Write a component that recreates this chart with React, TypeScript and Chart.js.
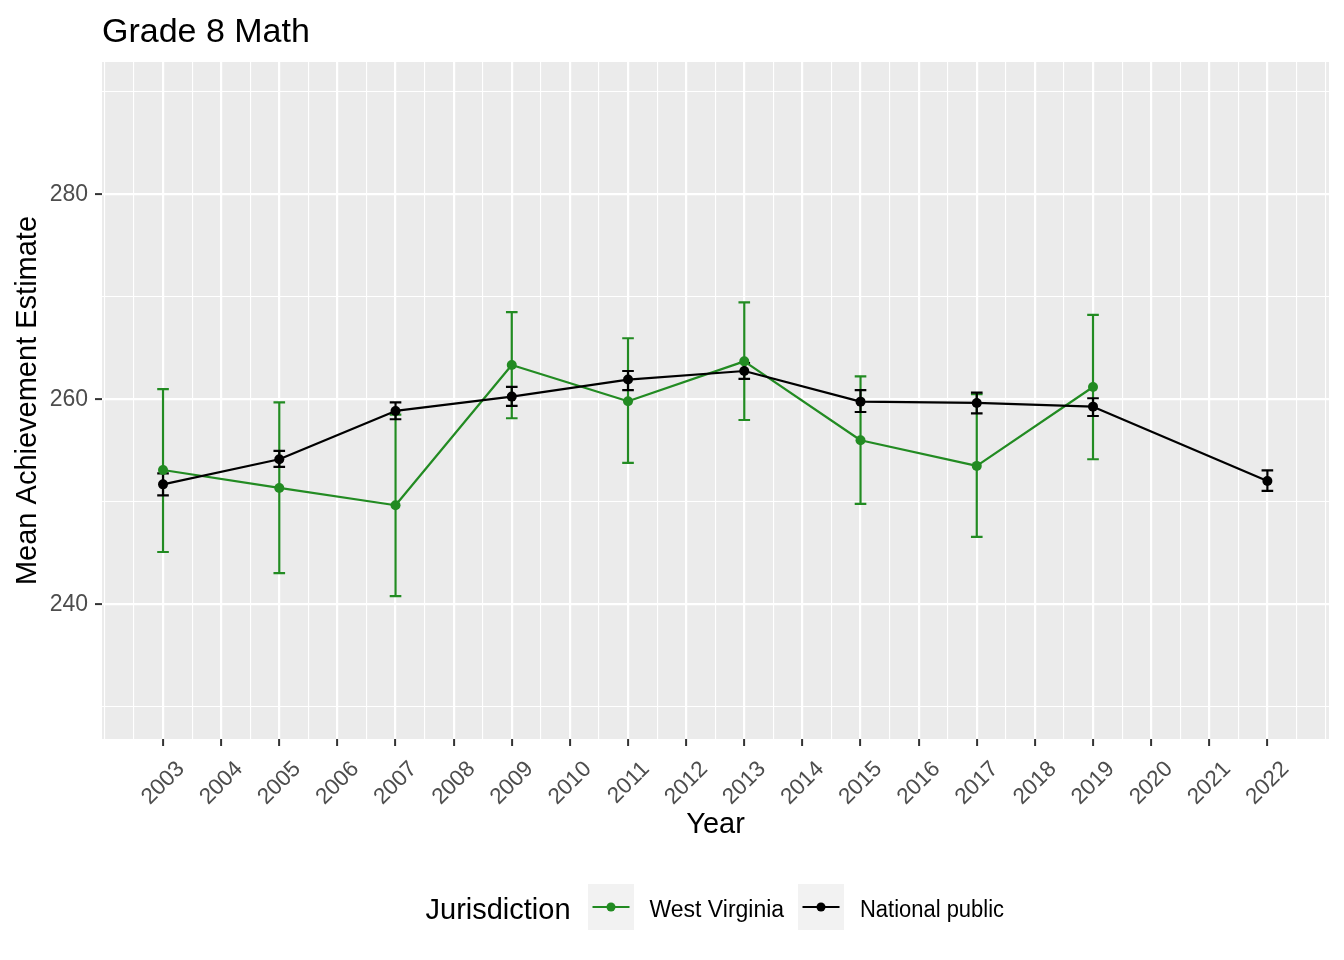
import React, { useEffect, useRef } from 'react';
import { Chart, registerables } from 'chart.js';

Chart.register(...registerables);

// ---------- data ----------
const wvYears = [2003, 2005, 2007, 2009, 2011, 2013, 2015, 2017, 2019];
const wvMean = [253.1, 251.35, 249.66, 263.35, 259.8, 263.7, 256.0, 253.5, 261.2];
const wvLow = [245.1, 243.05, 240.8, 258.15, 253.8, 257.98, 249.8, 246.57, 254.15];
const wvHigh = [260.98, 259.7, 258.5, 268.5, 265.95, 269.46, 262.24, 260.49, 268.23];

const npYears = [2003, 2005, 2007, 2009, 2011, 2013, 2015, 2017, 2019, 2022];
const npMean = [251.7, 254.15, 258.86, 260.26, 261.92, 262.76, 259.77, 259.64, 259.28, 252.03];
const npLow = [250.63, 253.4, 258.05, 259.35, 260.9, 261.98, 258.76, 258.63, 258.37, 251.06];
const npHigh = [252.78, 254.96, 259.7, 261.2, 262.76, 263.54, 260.9, 260.65, 260.1, 253.07];

const xTickLabels = [2003, 2004, 2005, 2006, 2007, 2008, 2009, 2010, 2011, 2012, 2013, 2014, 2015, 2016, 2017, 2018, 2019, 2020, 2021, 2022];
const xGridValues = [2002, 2002.5, 2003, 2003.5, 2004, 2004.5, 2005, 2005.5, 2006, 2006.5, 2007, 2007.5, 2008, 2008.5, 2009, 2009.5, 2010, 2010.5, 2011, 2011.5, 2012, 2012.5, 2013, 2013.5, 2014, 2014.5, 2015, 2015.5, 2016, 2016.5, 2017, 2017.5, 2018, 2018.5, 2019, 2019.5, 2020, 2020.5, 2021, 2021.5, 2022, 2022.5, 2023];
const yTickLabels = [240, 260, 280];
const yGridValues = [230, 240, 250, 260, 270, 280, 290];

const seriesNames = ['West Virginia', 'National public'];

const TITLE = 'Grade 8 Math';
const X_TITLE = 'Year';
const Y_TITLE = 'Mean Achievement Estimate';
const LEGEND_TITLE = 'Jurisdiction';

const GREEN = '#228B22';
const BLACK = '#000000';
const FONT = '"Liberation Sans", Arial, Helvetica, sans-serif';

const CAP_HALF = 0.1;

const bgPlugin = {
  id: 'ggBackground',
  beforeDraw(chart: any) {
    const { ctx, chartArea } = chart;
    ctx.save();
    ctx.fillStyle = '#FFFFFF';
    ctx.fillRect(0, 0, chart.width, chart.height);
    ctx.fillStyle = '#EBEBEB';
    ctx.fillRect(chartArea.left, chartArea.top, chartArea.right - chartArea.left, chartArea.bottom - chartArea.top);
    ctx.restore();
  },
};

const errorBarPlugin = {
  id: 'ggErrorBars',
  beforeDatasetsDraw(chart: any) {
    const { ctx } = chart;
    const xs = chart.scales.x;
    const ys = chart.scales.y;
    const sets = [
      { yrs: wvYears, lo: wvLow, hi: wvHigh, color: GREEN },
      { yrs: npYears, lo: npLow, hi: npHigh, color: BLACK },
    ];
    ctx.save();
    ctx.lineWidth = 2.2;
    sets.forEach((s) => {
      ctx.strokeStyle = s.color;
      s.yrs.forEach((yr, i) => {
        const px = xs.getPixelForValue(yr);
        const x0 = xs.getPixelForValue(yr - CAP_HALF);
        const x1 = xs.getPixelForValue(yr + CAP_HALF);
        const y0 = ys.getPixelForValue(s.lo[i]);
        const y1 = ys.getPixelForValue(s.hi[i]);
        ctx.beginPath();
        ctx.moveTo(px, y0);
        ctx.lineTo(px, y1);
        ctx.moveTo(x0, y0);
        ctx.lineTo(x1, y0);
        ctx.moveTo(x0, y1);
        ctx.lineTo(x1, y1);
        ctx.stroke();
      });
    });
    ctx.restore();
  },
};

const textPlugin = {
  id: 'ggText',
  afterDraw(chart: any) {
    const { ctx, chartArea } = chart;
    ctx.save();
    ctx.textBaseline = 'alphabetic';
    ctx.textAlign = 'left';
    // title
    ctx.fillStyle = '#000000';
    ctx.font = `34px ${FONT}`;
    ctx.fillText(TITLE, chartArea.left, 41.5);

    // legend
    const midY = 907;
    ctx.font = `29px ${FONT}`;
    ctx.fillText(LEGEND_TITLE, 425.5, 918.5);
    const keys = [
      { box: 588, color: GREEN, label: seriesNames[0], tx: 649.5, w: 135 },
      { box: 798, color: BLACK, label: seriesNames[1], tx: 860, w: 144 },
    ];
    keys.forEach((k) => {
      ctx.fillStyle = '#F2F2F2';
      ctx.fillRect(k.box, 884, 46, 46);
      ctx.strokeStyle = k.color;
      ctx.lineWidth = 2.2;
      ctx.beginPath();
      ctx.moveTo(k.box + 4.5, midY);
      ctx.lineTo(k.box + 41.5, midY);
      ctx.stroke();
      ctx.fillStyle = k.color;
      ctx.beginPath();
      ctx.arc(k.box + 23, midY, 4.5, 0, Math.PI * 2);
      ctx.fill();
      ctx.fillStyle = '#000000';
      ctx.font = `23px ${FONT}`;
      ctx.fillText(k.label, k.tx, 917, k.w);
    });
    ctx.restore();
  },
};

export default function App() {
  const ref = useRef<HTMLCanvasElement | null>(null);

  useEffect(() => {
    if (!ref.current) return;
    Chart.defaults.font.family = FONT;
    const chart = new Chart(ref.current, {
      type: 'line',
      data: {
        datasets: [
          {
            label: seriesNames[0],
            data: wvYears.map((yr, i) => ({ x: yr, y: wvMean[i] })),
            borderColor: GREEN,
            backgroundColor: GREEN,
            borderWidth: 2.2,
            borderJoinStyle: 'round',
            pointRadius: 5,
            pointBorderWidth: 0,
            pointBackgroundColor: GREEN,
            tension: 0,
            order: 1,
          },
          {
            label: seriesNames[1],
            data: npYears.map((yr, i) => ({ x: yr, y: npMean[i] })),
            borderColor: BLACK,
            backgroundColor: BLACK,
            borderWidth: 2.2,
            borderJoinStyle: 'round',
            pointRadius: 5,
            pointBorderWidth: 0,
            pointBackgroundColor: BLACK,
            tension: 0,
            order: 0,
          },
        ],
      },
      options: {
        animation: false,
        responsive: false,
        devicePixelRatio: 1,
        events: [],
        layout: { padding: { left: 0, top: 62, right: 15, bottom: 111 } },
        plugins: {
          legend: { display: false },
          title: { display: false },
          tooltip: { enabled: false },
        },
        scales: {
          x: {
            type: 'linear',
            min: 2001.95,
            max: 2023.06,
            afterBuildTicks: (s: any) => {
              s.ticks = xGridValues.map((v) => ({ value: v }));
            },
            afterFit: (s: any) => {
              s.height = 110;
              s.paddingLeft = 0;
              s.paddingRight = 0;
            },
            border: { display: false },
            grid: {
              color: '#FFFFFF',
              lineWidth: (c: any) => (xTickLabels.includes(c.tick?.value) ? 2.2 : 1.1),
              tickColor: (c: any) => (xTickLabels.includes(c.tick?.value) ? '#333333' : 'rgba(0,0,0,0)'),
              tickLength: 7,
              tickWidth: 2,
            },
            ticks: {
              autoSkip: false,
              maxRotation: 45,
              minRotation: 45,
              labelOffset: 18,
              padding: 10,
              color: '#4D4D4D',
              font: { size: 22.5, family: FONT },
              callback: (v: any) => (xTickLabels.includes(Number(v)) ? String(v) : ''),
            },
            title: {
              display: true,
              text: X_TITLE,
              color: '#000000',
              font: { size: 29, family: FONT },
              padding: { top: 0, bottom: 6.6 },
            },
          },
          y: {
            type: 'linear',
            min: 226.86,
            max: 292.9,
            afterBuildTicks: (s: any) => {
              s.ticks = yGridValues.map((v) => ({ value: v }));
            },
            afterFit: (s: any) => {
              s.width = 102;
              s.paddingTop = 0;
              s.paddingBottom = 0;
            },
            border: { display: false },
            grid: {
              color: '#FFFFFF',
              lineWidth: (c: any) => (yTickLabels.includes(c.tick?.value) ? 2.2 : 1.1),
              tickColor: (c: any) => (yTickLabels.includes(c.tick?.value) ? '#333333' : 'rgba(0,0,0,0)'),
              tickLength: 7,
              tickWidth: 2,
            },
            ticks: {
              autoSkip: false,
              padding: 7,
              color: '#4D4D4D',
              font: { size: 23, family: FONT },
              callback: (v: any) => (yTickLabels.includes(Number(v)) ? String(v) : ''),
            },
            title: {
              display: true,
              text: Y_TITLE,
              color: '#000000',
              font: { size: 29, family: FONT },
              padding: { top: 10.6, bottom: 0 },
            },
          },
        },
      },
      plugins: [bgPlugin, errorBarPlugin, textPlugin],
    } as any);
    return () => chart.destroy();
  }, []);

  return (
    <div style={{ position: 'fixed', left: 0, top: 0, width: 1344, height: 960, background: '#FFFFFF' }}>
      <canvas ref={ref} width={1344} height={960} style={{ display: 'block', width: 1344, height: 960 }} />
    </div>
  );
}
